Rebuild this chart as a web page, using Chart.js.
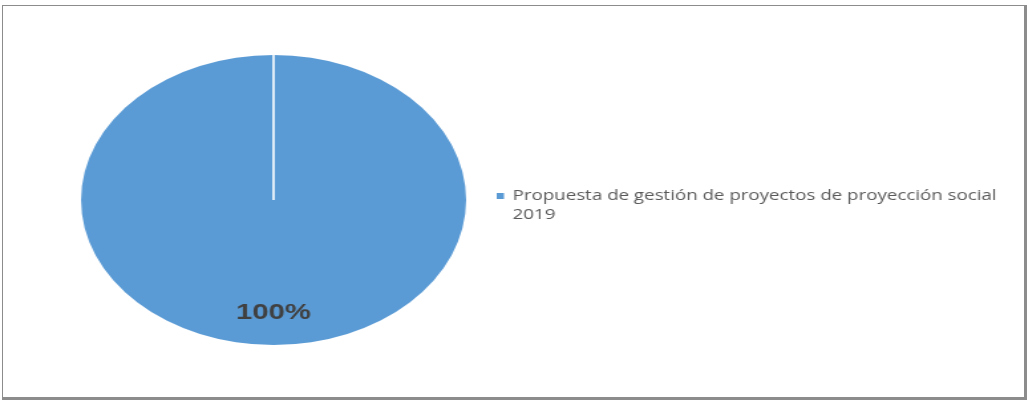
<!DOCTYPE html>
<html>
<head>
<meta charset="utf-8">
<script src="https://cdn.jsdelivr.net/npm/chart.js@4.4.0/dist/chart.umd.min.js"></script>
<style>
html, body { margin: 0; padding: 0; background: #fff; overflow: hidden; }
/* the reference is stretched sideways, so the canvas is too */
#wrap { position: absolute; left: 0; top: 0; width: 775px; height: 402px; transform: scaleX(1.328); transform-origin: 0 0; }
#frame { position: absolute; left: 2px; top: 5px; width: 1021px; height: 391px; border: 1px solid #8c8c8c; border-right: 3px solid #8c8c8c; border-bottom: 3px solid #8c8c8c; pointer-events: none; }
</style>
</head>
<body>
<div id="wrap"><canvas id="myPie" width="775" height="402"></canvas></div>
<div id="frame"></div>
<script>
const categories = ['Propuesta de gestión de proyectos de proyección social 2019'];
const values = [100];
const sliceColors = ['#5B9BD5'];

// white divider line + percentage label on each slice
const sliceExtras = {
  id: 'sliceExtras',
  afterDatasetsDraw(chart) {
    const ctx = chart.ctx;
    const meta = chart.getDatasetMeta(0);
    const total = values.reduce((a, b) => a + b, 0);
    meta.data.forEach((arc, i) => {
      const p = arc.getProps(['x', 'y', 'startAngle', 'endAngle', 'outerRadius'], true);
      ctx.save();
      ctx.strokeStyle = '#ffffff';
      ctx.lineWidth = 1.6;
      ctx.beginPath();
      ctx.moveTo(p.x, p.y);
      ctx.lineTo(p.x + Math.cos(p.startAngle) * p.outerRadius, p.y + Math.sin(p.startAngle) * p.outerRadius);
      ctx.stroke();
      const mid = (p.startAngle + p.endAngle) / 2;
      const lx = p.x + Math.cos(mid) * p.outerRadius * 0.78;
      const ly = p.y + Math.sin(mid) * p.outerRadius * 0.78;
      ctx.font = 'bold 22px "Liberation Sans", Arial, sans-serif';
      ctx.fillStyle = '#404040';
      ctx.textAlign = 'center';
      ctx.textBaseline = 'middle';
      ctx.fillText(Math.round(values[i] / total * 100) + '%', lx, ly);
      ctx.restore();
    });
  }
};

// legend on the right with wrapped text
const sideLegend = {
  id: 'sideLegend',
  afterDraw(chart) {
    const ctx = chart.ctx;
    ctx.save();
    ctx.font = '14.1px "Open Sans", sans-serif';
    ctx.textBaseline = 'middle';
    ctx.textAlign = 'left';
    const maxW = 380;
    let y = 196;
    chart.data.labels.forEach((label, i) => {
      ctx.fillStyle = sliceColors[i];
      ctx.fillRect(374, y - 3, 5.5, 6);
      const words = label.split(' ');
      let line = '';
      const lines = [];
      words.forEach(w => {
        const test = line ? line + ' ' + w : w;
        if (ctx.measureText(test).width > maxW && line) { lines.push(line); line = w; }
        else line = test;
      });
      lines.push(line);
      ctx.fillStyle = '#595959';
      lines.forEach((ln, k) => ctx.fillText(ln, 386, y + k * 19));
      y += lines.length * 19 + 6;
    });
    ctx.restore();
  }
};

new Chart(document.getElementById('myPie').getContext('2d'), {
  type: 'pie',
  data: {
    labels: categories,
    datasets: [{
      data: values,
      backgroundColor: sliceColors,
      borderWidth: 0
    }]
  },
  options: {
    responsive: false,
    animation: false,
    layout: { padding: { top: 55, bottom: 57, left: 61, right: 424 } },
    plugins: {
      legend: { display: false },
      tooltip: { enabled: false }
    }
  },
  plugins: [sliceExtras, sideLegend]
});
</script>
</body>
</html>
